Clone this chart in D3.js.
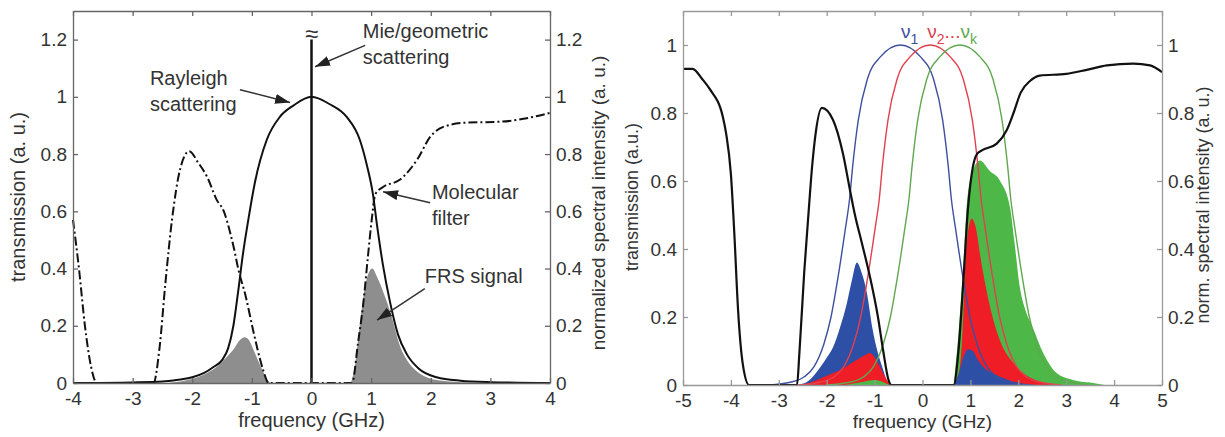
<!DOCTYPE html>
<html>
<head>
<meta charset="utf-8">
<script src="https://cdn.jsdelivr.net/npm/d3@7"></script>
<style>
  body { margin: 0; background: #fff; }
  text { font-family: "Liberation Sans", Arial, sans-serif; fill: #333; }
</style>
</head>
<body>
<div id="chart"></div>
<script>
// ---- left panel data (frequency GHz, value a.u.) ----
const rayleigh = [[-4,0],[-3,0.002],[-2.5,0.005],[-2.2,0.012],[-2,0.02],[-1.8,0.035],[-1.65,0.055],[-1.5,0.08],
  [-1.4,0.12],[-1.31,0.2],[-1.23,0.32],[-1.15,0.45],[-1.06,0.57],[-0.95,0.7],[-0.75,0.85],[-0.53,0.93],[-0.3,0.97],
  [0,1],[0.3,0.975],[0.59,0.93],[0.81,0.85],[0.93,0.76],[1.03,0.66],[1.1,0.55],[1.2,0.41],[1.32,0.28],[1.45,0.17],
  [1.6,0.1],[1.8,0.05],[2.1,0.02],[2.5,0.008],[3,0.003],[4,0]]
const molFilter = [[-4,0.57],[-3.9,0.4],[-3.8,0.2],[-3.7,0.06],[-3.6,0],[-2.65,0],[-2.55,0.12],[-2.45,0.35],
  [-2.34,0.57],[-2.2,0.75],[-2.05,0.81],[-1.9,0.77],[-1.75,0.72],[-1.59,0.64],[-1.47,0.6],[-1.37,0.53],[-1.3,0.47],
  [-1.23,0.4],[-1.1,0.3],[-0.98,0.185],[-0.81,0.045],[-0.72,0],[0.68,0],[0.78,0.14],[0.87,0.28],[0.95,0.45],
  [1.01,0.57],[1.07,0.66],[1.2,0.685],[1.48,0.71],[1.77,0.78],[1.99,0.86],[2.21,0.895],[2.6,0.91],[3.16,0.913],
  [3.72,0.93],[4,0.944]]
const frsLeft = [[-2.4,0],[-2.2,0.005],[-2,0.015],[-1.8,0.03],[-1.6,0.055],[-1.45,0.085],[-1.3,0.12],[-1.2,0.15],
  [-1.12,0.16],[-1.05,0.15],[-0.98,0.12],[-0.9,0.08],[-0.8,0.035],[-0.72,0.005],[-0.68,0]]
const frsRight = [[0.66,0],[0.72,0.05],[0.82,0.22],[0.9,0.34],[0.97,0.39],[1.02,0.4],[1.1,0.37],[1.2,0.32],
  [1.32,0.25],[1.49,0.126],[1.6,0.08],[1.77,0.04],[2,0.015],[2.2,0.008],[2.6,0.002],[3,0]]
const mieLine = [[0,0],[0,1.2]]

// ---- right panel data ----
const filter2 = [[-5,0.93],[-4.8,0.93],[-4.6,0.9],[-4.44,0.87],[-4.17,0.79],[-4.1,0.74],[-4,0.62],[-3.93,0.45],
  [-3.85,0.22],[-3.75,0.06],[-3.62,0],[-2.62,0],[-2.57,0.094],[-2.47,0.33],[-2.39,0.485],[-2.3,0.65],[-2.24,0.73],
  [-2.1,0.815],[-1.87,0.78],[-1.66,0.68],[-1.51,0.57],[-1.41,0.5],[-1.27,0.42],[-1.1,0.32],[-0.93,0.2],[-0.82,0.1],
  [-0.71,0.015],[-0.65,0],[0.65,0],[0.75,0.1],[0.85,0.3],[0.95,0.52],[1.05,0.64],[1.14,0.68],[1.24,0.69],
  [1.55,0.71],[1.76,0.75],[1.9,0.8],[2.05,0.86],[2.25,0.895],[2.45,0.91],[3,0.915],[3.43,0.927],[3.85,0.94],
  [4.4,0.945],[4.75,0.94],[5,0.92]]
const laser1 = [[-3.2,0],[-2.76,0.008],[-2.46,0.025],[-2.26,0.055],[-2.06,0.12],[-1.91,0.2],[-1.76,0.32],
  [-1.61,0.46],[-1.52,0.55],[-1.46,0.64],[-1.34,0.78],[-1.15,0.9],[-0.88,0.965],[-0.46,1],[-0.04,0.965],[0.23,0.9],
  [0.42,0.78],[0.54,0.64],[0.6,0.55],[0.69,0.46],[0.84,0.32],[0.99,0.2],[1.14,0.12],[1.34,0.055],[1.54,0.025],
  [1.84,0.008],[2.3,0]]
const laser2 = [[-2.6,0],[-2.14,0.008],[-1.84,0.025],[-1.64,0.055],[-1.44,0.12],[-1.29,0.2],[-1.14,0.32],
  [-0.99,0.46],[-0.9,0.55],[-0.84,0.64],[-0.72,0.78],[-0.53,0.9],[-0.26,0.965],[0.16,1],[0.58,0.965],[0.85,0.9],
  [1.04,0.78],[1.16,0.64],[1.22,0.55],[1.31,0.46],[1.46,0.32],[1.61,0.2],[1.76,0.12],[1.96,0.055],[2.16,0.025],
  [2.46,0.008],[2.9,0]]
const laserK = [[-2,0],[-1.52,0.008],[-1.22,0.025],[-1.02,0.055],[-0.82,0.12],[-0.67,0.2],[-0.52,0.32],
  [-0.37,0.46],[-0.28,0.55],[-0.22,0.64],[-0.1,0.78],[0.09,0.9],[0.36,0.965],[0.78,1],[1.2,0.965],[1.47,0.9],
  [1.66,0.78],[1.78,0.64],[1.84,0.55],[1.93,0.46],[2.08,0.32],[2.23,0.2],[2.38,0.12],[2.58,0.055],[2.78,0.025],
  [3.08,0.008],[3.5,0]]
const sig1Left = [[-2.6,0],[-2.4,0.01],[-2.2,0.04],[-2,0.08],[-1.87,0.11],[-1.72,0.17],[-1.58,0.24],[-1.47,0.31],
  [-1.37,0.36],[-1.27,0.33],[-1.16,0.27],[-1.05,0.17],[-0.93,0.094],[-0.82,0.044],[-0.72,0.005],[-0.65,0]]
const sig2Left = [[-2.5,0],[-2.2,0.015],[-1.95,0.03],[-1.72,0.044],[-1.37,0.074],[-1.2,0.088],[-1.1,0.094],
  [-0.93,0.065],[-0.78,0.024],[-0.68,0]]
const sigKLeft = [[-1.6,0],[-1.3,0.008],[-1,0.015],[-0.85,0.01],[-0.7,0]]
const sig1Right = [[0.65,0],[0.75,0.03],[0.85,0.08],[0.95,0.105],[1.05,0.1],[1.15,0.075],[1.27,0.053],
  [1.45,0.035],[1.62,0.024],[1.85,0.012],[2.1,0.004],[2.4,0]]
const sig2Right = [[0.65,0],[0.72,0.02],[0.78,0.053],[0.85,0.2],[0.89,0.35],[0.95,0.45],[1.03,0.49],[1.1,0.47],
  [1.24,0.35],[1.41,0.23],[1.62,0.13],[1.9,0.064],[2.1,0.035],[2.45,0.01],[2.8,0]]
const sigKRight = [[0.65,0],[0.75,0.15],[0.85,0.35],[0.93,0.54],[1.05,0.63],[1.2,0.66],[1.4,0.63],[1.62,0.6],
  [1.83,0.52],[1.92,0.42],[2.03,0.29],[2.15,0.22],[2.3,0.17],[2.52,0.094],[2.8,0.035],[3.14,0.015],[3.5,0.007],[3.8,0]]

// ticks and labels
const leftXTicks = [-4,-3,-2,-1,0,1,2,3,4]
const leftYTicks = [0,0.2,0.4,0.6,0.8,1,1.2]
const rightXTicks = [-5,-4,-3,-2,-1,0,1,2,3,4,5]
const rightYTicks = [0,0.2,0.4,0.6,0.8,1]

// annotations: text lines [x, y] in data units, arrow from -> tip
const notes = [
  {lines: ['Rayleigh', 'scattering'], at: [-2.71, 1.042], from: [-1.2, 1.025], tip: [-0.36, 0.98]},
  {lines: ['Mie/geometric', 'scattering'], at: [0.86, 1.206], from: [0.9, 1.18], tip: [0.06, 1.105]},
  {lines: ['Molecular', 'filter'], at: [2.02, 0.643], from: [1.99, 0.63], tip: [1.2, 0.668]},
  {lines: ['FRS signal'], at: [1.9, 0.35], from: [1.9, 0.33], tip: [1.1, 0.22]}
]

const W = 1225, H = 437
const svg = d3.select('#chart').append('svg').attr('width', W).attr('height', H)

svg.append('defs').append('marker')
  .attr('id', 'head').attr('markerUnits', 'userSpaceOnUse')
  .attr('markerWidth', 16).attr('markerHeight', 10)
  .attr('refX', 15).attr('refY', 5).attr('orient', 'auto')
  .append('path').attr('d', 'M0,0 L15,5 L0,10 z').attr('fill', '#222')

const fmt = d => String(+d.toFixed(1))

function frame(g, x, y, xt, yt, color) {
  let b = y.range()[0], t = y.range()[1], l = x.range()[0], r = x.range()[1]
  let ax = g.append('g').attr('transform', `translate(0,${b})`)
    .call(d3.axisBottom(x).tickValues(xt).tickSizeInner(-5).tickSizeOuter(0).tickPadding(9).tickFormat(fmt))
  let at = g.append('g').attr('transform', `translate(0,${t})`)
    .call(d3.axisTop(x).tickValues(xt).tickSizeInner(-5).tickSizeOuter(0).tickFormat(''))
  let al = g.append('g').attr('transform', `translate(${l},0)`)
    .call(d3.axisLeft(y).tickValues(yt).tickSizeInner(-5).tickSizeOuter(0).tickPadding(6).tickFormat(fmt))
  let ar = g.append('g').attr('transform', `translate(${r},0)`)
    .call(d3.axisRight(y).tickValues(yt).tickSizeInner(-5).tickSizeOuter(0).tickPadding(6).tickFormat(fmt))
  ;[ax, at, al, ar].forEach(a => {
    a.selectAll('path, line').attr('stroke', color).attr('stroke-width', 1.3)
    a.selectAll('text').attr('font-size', 19).attr('fill', '#333')
      .style('font-family', '"Liberation Sans", Arial, sans-serif')
  })
}

function vlabel(g, txt, x, y, size) {
  g.append('text').attr('transform', `translate(${x},${y}) rotate(-90)`)
    .attr('text-anchor', 'middle').attr('font-size', size).text(txt)
}

// ================= LEFT PANEL =================
{
  let x = d3.scaleLinear().domain([-4, 4]).range([73, 550])
  let y = d3.scaleLinear().domain([0, 1.3]).range([383, 11])
  let g = svg.append('g')
  let line = d3.line().x(d => x(d[0])).y(d => y(d[1])).curve(d3.curveMonotoneX)
  let area = d3.area().x(d => x(d[0])).y0(y(0)).y1(d => y(d[1])).curve(d3.curveMonotoneX)

  ;[frsLeft, frsRight].forEach(s => g.append('path').attr('d', area(s)).attr('fill', '#8e8e8e'))

  g.append('path').attr('d', line(molFilter)).attr('fill', 'none').attr('stroke', '#111')
    .attr('stroke-width', 2).attr('stroke-dasharray', '9,3,2,3')
  g.append('path').attr('d', line(rayleigh)).attr('fill', 'none').attr('stroke', '#111').attr('stroke-width', 2)
  g.append('path').attr('d', d3.line().x(d => x(d[0])).y(d => y(d[1]))(mieLine))
    .attr('stroke', '#111').attr('stroke-width', 2.5)
  g.append('text').attr('x', x(0)).attr('y', y(1.2) + 2).attr('text-anchor', 'middle')
    .attr('font-size', 24).text('≈')

  frame(g, x, y, leftXTicks, leftYTicks, '#666')
  g.append('text').attr('x', x(0)).attr('y', 427).attr('text-anchor', 'middle').attr('font-size', 20)
    .text('frequency (GHz)')
  vlabel(g, 'transmission (a. u.)', 25, 197, 20)
  vlabel(g, 'normalized spectral intensity (a. u.)', 605, 203, 19)

  notes.forEach(n => {
    n.lines.forEach((s, i) => {
      g.append('text').attr('x', x(n.at[0])).attr('y', y(n.at[1]) + i * 26).attr('font-size', 20).text(s)
    })
    g.append('line').attr('x1', x(n.from[0])).attr('y1', y(n.from[1]))
      .attr('x2', x(n.tip[0])).attr('y2', y(n.tip[1]))
      .attr('stroke', '#333').attr('stroke-width', 1.5).attr('marker-end', 'url(#head)')
  })
}

// ================= RIGHT PANEL =================
{
  let x = d3.scaleLinear().domain([-5, 5]).range([683, 1162])
  let y = d3.scaleLinear().domain([0, 1.1]).range([385, 11])
  let g = svg.append('g')
  let line = d3.line().x(d => x(d[0])).y(d => y(d[1])).curve(d3.curveMonotoneX)
  let area = d3.area().x(d => x(d[0])).y0(y(0)).y1(d => y(d[1])).curve(d3.curveMonotoneX)

  const blueF = '#2d4fa6', redF = '#ee1d26', greenF = '#4db848'
  // bigger lumps first so the smaller ones stay visible
  ;[[sig1Left, blueF], [sig2Left, redF], [sigKLeft, greenF],
    [sigKRight, greenF], [sig2Right, redF], [sig1Right, blueF]].forEach(([s, c]) => {
    g.append('path').attr('d', area(s)).attr('fill', c)
  })

  ;[[laser1, '#3d4f9e'], [laser2, '#e0414f'], [laserK, '#5fa84e']].forEach(([s, c]) => {
    g.append('path').attr('d', line(s)).attr('fill', 'none').attr('stroke', c).attr('stroke-width', 1.4)
  })
  g.append('path').attr('d', line(filter2)).attr('fill', 'none').attr('stroke', '#111').attr('stroke-width', 2.2)

  // line labels
  let t1 = g.append('text').attr('x', x(-0.45)).attr('y', y(1.02)).attr('font-size', 19)
  t1.append('tspan').text('ν').attr('fill', '#3d4f9e')
  t1.append('tspan').text('1').attr('dy', 6).attr('font-size', 14).attr('fill', '#3d4f9e')
  let t2 = g.append('text').attr('x', x(0.1)).attr('y', y(1.02)).attr('font-size', 19)
  t2.append('tspan').text('ν').attr('fill', '#e0414f')
  t2.append('tspan').text('2').attr('dy', 6).attr('font-size', 14).attr('fill', '#e0414f')
  t2.append('tspan').text('...').attr('dy', -6).attr('fill', '#e0414f')
  t2.append('tspan').text('ν').attr('fill', '#5fa84e')
  t2.append('tspan').text('k').attr('dy', 6).attr('font-size', 14).attr('fill', '#5fa84e')

  frame(g, x, y, rightXTicks, rightYTicks, '#999')
  g.append('text').attr('x', x(0)).attr('y', 428).attr('text-anchor', 'middle').attr('font-size', 19)
    .text('frequency (GHz)')
  vlabel(g, 'transmission (a.u.)', 638, 197, 18)
  vlabel(g, 'norm. spectral intensity (a. u.)', 1209, 205, 18)
}
</script>
</body>
</html>
